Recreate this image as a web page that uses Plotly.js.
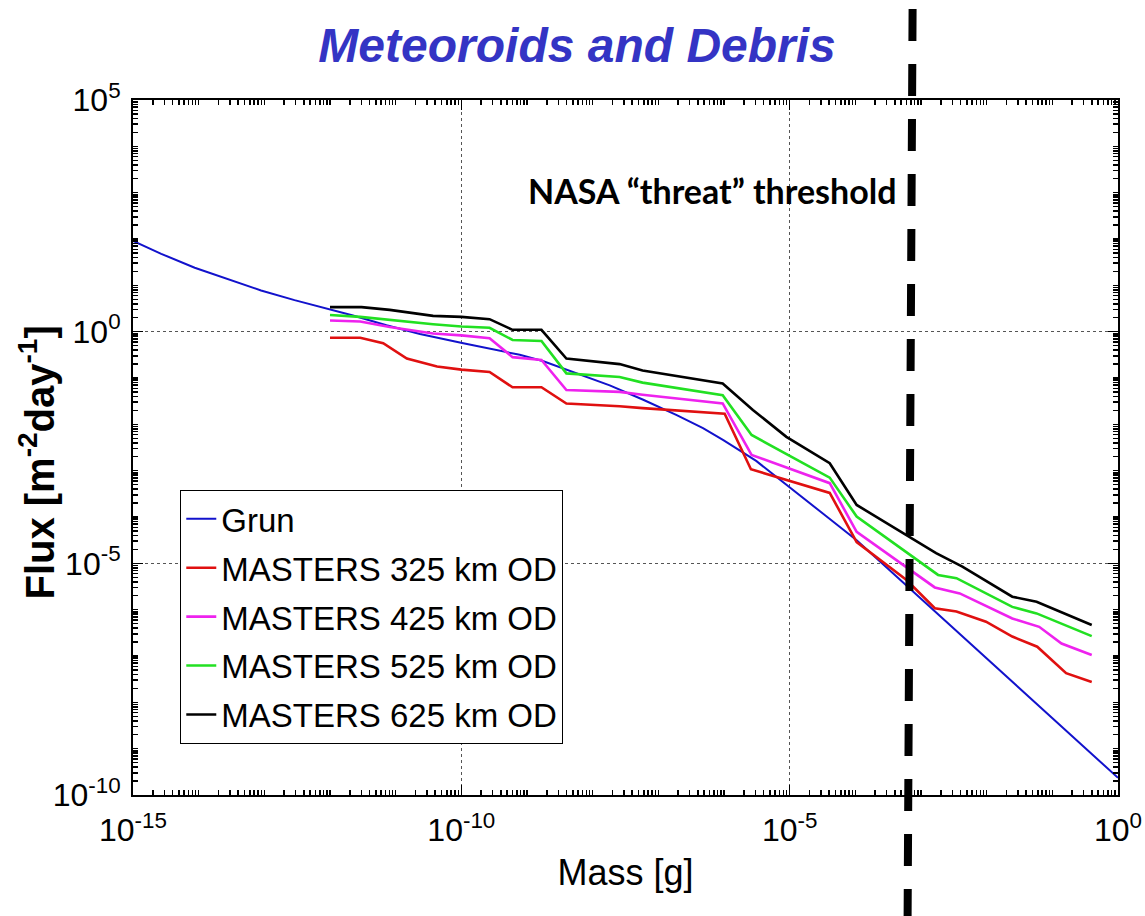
<!DOCTYPE html>
<html>
<head>
<meta charset="utf-8">
<script src="https://cdn.plot.ly/plotly-3.0.1.min.js"></script>
<style>
  html, body { margin: 0; padding: 0; background: #fff; }
  #chart { width: 1145px; height: 916px; }
</style>
</head>
<body>
<div id="chart"></div>
<script>
// Cumulative flux versus particle mass, stored as base-10 exponents
// (log10 of mass in g, log10 of flux in m^-2 day^-1).

// Grun interplanetary meteoroid model
const grunLogMass = [-15.0, -14.57, -14.06, -13.55, -13.05, -12.54, -12.03, -11.65, -11.14, -10.63, -9.97, -9.57, -9.11, -8.75, -8.25, -7.74, -7.23, -6.72, -6.32, -6.01, -5.51, -5.00, -4.49, -3.98, -3.63, -1.30, 0.0];
const grunLogFlux = [1.96, 1.68, 1.38, 1.13, 0.89, 0.68, 0.49, 0.35, 0.14, -0.05, -0.25, -0.36, -0.50, -0.64, -0.89, -1.16, -1.47, -1.80, -2.08, -2.34, -2.79, -3.37, -3.93, -4.50, -4.95, -7.95, -9.63];

// MASTER orbital debris + meteoroid flux at four altitudes
const m325LogMass = [-12.0, -11.54, -11.19, -10.83, -10.37, -10.0, -9.57, -9.22, -8.78, -8.40, -7.59, -7.24, -5.99, -5.59, -4.39, -3.98, -3.22, -2.79, -2.46, -2.01, -1.61, -1.23, -0.79, -0.40];
const m325LogFlux = [-0.13, -0.13, -0.25, -0.58, -0.75, -0.82, -0.87, -1.20, -1.20, -1.55, -1.61, -1.65, -1.77, -2.97, -3.48, -4.54, -5.36, -5.97, -6.04, -6.26, -6.58, -6.80, -7.37, -7.56];

const m425LogMass = [-12.0, -11.54, -11.09, -10.43, -10.0, -9.57, -9.22, -8.78, -8.40, -7.59, -7.24, -6.02, -5.58, -4.39, -3.98, -2.79, -2.41, -1.61, -1.20, -0.86, -0.40];
const m425LogFlux = [0.24, 0.22, 0.10, -0.04, -0.08, -0.14, -0.55, -0.61, -1.26, -1.30, -1.36, -1.55, -2.66, -3.27, -4.32, -5.52, -5.65, -6.19, -6.37, -6.73, -6.98];

const m525LogMass = [-12.0, -11.54, -10.43, -10.0, -9.57, -9.22, -8.78, -8.40, -7.59, -7.24, -6.02, -5.58, -4.39, -3.98, -2.74, -2.46, -1.61, -1.24, -0.40];
const m525LogFlux = [0.36, 0.32, 0.16, 0.11, 0.085, -0.18, -0.20, -0.90, -0.98, -1.10, -1.37, -2.23, -3.15, -3.99, -5.25, -5.32, -5.94, -6.08, -6.57];

const m625LogMass = [-12.0, -11.52, -11.09, -10.43, -10.0, -9.57, -9.22, -8.78, -8.40, -7.59, -7.24, -6.02, -5.56, -5.05, -4.39, -3.98, -2.77, -2.37, -1.61, -1.24, -0.40];
const m625LogFlux = [0.53, 0.53, 0.47, 0.34, 0.32, 0.27, 0.04, 0.04, -0.58, -0.70, -0.84, -1.12, -1.69, -2.27, -2.84, -3.74, -4.78, -5.07, -5.72, -5.83, -6.33];

const seriesNames = ['Grun', 'MASTERS 325 km OD', 'MASTERS 425 km OD', 'MASTERS 525 km OD', 'MASTERS 625 km OD'];

// Axis ticks
const xTickVals = [1e-15, 1e-10, 1e-5, 1];
const xTickText = ['10<sup>-15</sup>', '10<sup>-10</sup>', '10<sup>-5</sup>', '10<sup>0</sup>'];
const yTickVals = [1e-10, 1e-5, 1, 1e5];
const yTickText = ['10<sup>-10</sup>', '10<sup>-5</sup>', '10<sup>0</sup>', '10<sup>5</sup>'];

// NASA threat threshold mass (the hand-drawn marker leans slightly)
const thresholdLogMassTop = -3.128;
const thresholdLogMassBottom = -3.204;

const pow10 = arr => arr.map(e => Math.pow(10, e));

const SANS = '"Liberation Sans", Arial, sans-serif';

function line(name, lx, ly, color, width) {
  return {
    type: 'scatter', mode: 'lines', name: name, legendgroup: name,
    x: pow10(lx), y: pow10(ly),
    line: { color: color, width: width },
    hoverinfo: 'skip'
  };
}

const traces = [
  line(seriesNames[0], grunLogMass, grunLogFlux, '#1212cc', 2),
  line(seriesNames[1], m325LogMass, m325LogFlux, '#e01010', 2.6),
  line(seriesNames[2], m425LogMass, m425LogFlux, '#ee22ee', 2.6),
  line(seriesNames[3], m525LogMass, m525LogFlux, '#22e022', 2.6),
  line(seriesNames[4], m625LogMass, m625LogFlux, '#000000', 2.6)
];

const axisCommon = {
  type: 'log',
  showline: true, linecolor: '#000', linewidth: 2, mirror: 'ticks',
  ticks: 'inside', ticklen: 10, tickwidth: 1.5, tickcolor: '#000',
  tickmode: 'array',
  showgrid: true, gridcolor: '#555', griddash: 'dot', gridwidth: 1,
  zeroline: false,
  tickfont: { family: SANS, size: 32, color: '#000' },
  minor: { tickmode: 'linear', dtick: 'D1', ticks: 'inside', ticklen: 5, tickcolor: '#000', showgrid: false }
};

const layout = {
  width: 1145, height: 916,
  paper_bgcolor: '#fff', plot_bgcolor: '#fff',
  margin: { l: 133, r: 27, t: 100, b: 121 },
  title: {
    text: 'Meteoroids and Debris',
    font: { family: SANS, size: 48, color: '#3434c4', weight: 'bold', style: 'italic' },
    x: 0.504, xanchor: 'center', xref: 'container',
    y: 0.951, yanchor: 'middle'
  },
  xaxis: Object.assign({}, axisCommon, {
    range: [-15, 0],
    tickvals: xTickVals, ticktext: xTickText,
    ticklabelstandoff: 6,
    title: { text: 'Mass [g]', font: { family: SANS, size: 36, color: '#000' }, standoff: 12 }
  }),
  yaxis: Object.assign({}, axisCommon, {
    range: [-10, 5],
    tickvals: yTickVals, ticktext: yTickText,
    ticklabelstandoff: 4
  }),
  showlegend: true,
  legend: {
    x: 0.048, y: 0.439, xanchor: 'left', yanchor: 'top',
    bgcolor: '#fff', bordercolor: '#000', borderwidth: 1,
    font: { family: SANS, size: 33, color: '#000' },
    itemwidth: 30, tracegroupgap: 3
  },
  shapes: [{
    type: 'line', xref: 'x', yref: 'paper',
    x0: Math.pow(10, thresholdLogMassTop), y0: 1.131,
    x1: Math.pow(10, thresholdLogMassBottom), y1: -0.176,
    line: { color: '#000', width: 8, dash: '32px,23px' },
    layer: 'above'
  }],
  annotations: [
    {
      // y-axis title, placed by hand next to the tick labels
      xref: 'paper', yref: 'paper', x: -0.097, y: 0.479,
      xanchor: 'center', yanchor: 'middle', textangle: -90,
      text: 'Flux [m<sup>-2</sup>day<sup>-1</sup>]', showarrow: false,
      font: { family: SANS, size: 40, color: '#000', weight: 'bold' }
    },
    {
      xref: 'x', yref: 'paper',
      x: thresholdLogMassTop, y: 0.870,
      xanchor: 'right', yanchor: 'middle', xshift: -14,
      text: 'NASA “threat” threshold', showarrow: false,
      font: { family: 'Lato, "Open Sans", sans-serif', size: 34, color: '#000', weight: 'bold' }
    }
  ]
};

Plotly.newPlot('chart', traces, layout, { displayModeBar: false, staticPlot: true });
</script>
</body>
</html>
